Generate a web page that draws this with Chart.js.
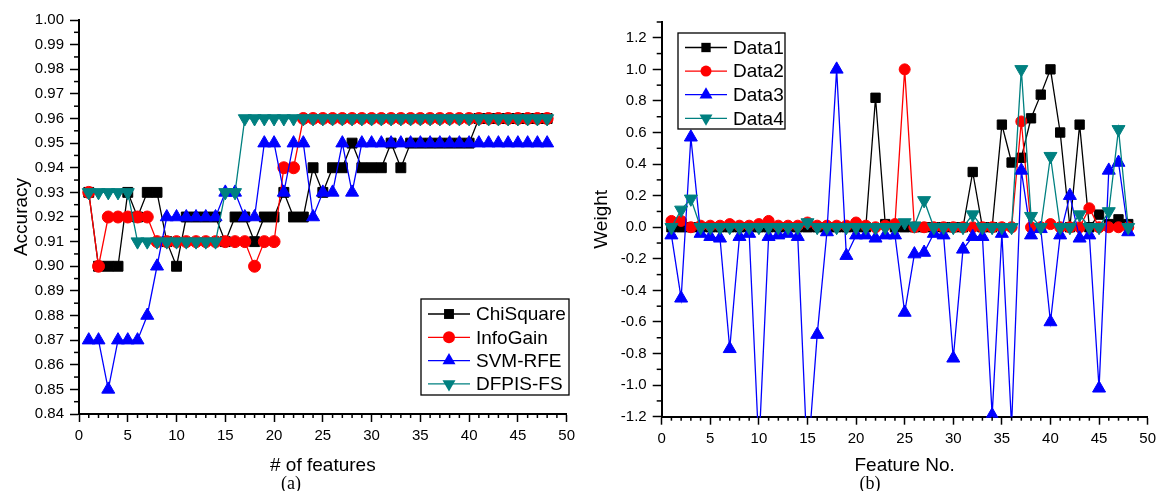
<!DOCTYPE html>
<html>
<head>
<meta charset="utf-8">
<script src="https://cdn.jsdelivr.net/npm/chart.js@4.4.1/dist/chart.umd.min.js"></script>
<style>
  body { margin: 0; background: #fff; width: 1161px; height: 491px; position: relative; overflow: hidden; }
  .panel { position: absolute; top: 0; height: 491px; }
  .cap { position: absolute; font-family: 'Liberation Serif', 'Times New Roman', serif; font-size: 18px; transform: translateX(-50%); color: #000; }
</style>
</head>
<body>
<div class="panel" style="left:0;width:580px"><canvas id="accChart" width="580" height="491"></canvas></div>
<div class="panel" style="left:580px;width:581px"><canvas id="weightChart" width="581" height="491"></canvas></div>
<div class="cap" style="left:291px;top:473px">(a)</div>
<div class="cap" style="left:870px;top:473px">(b)</div>

<script>
// x values shared by both panels
const features = [1, 2, 3, 4, 5, 6, 7, 8, 9, 10, 11, 12, 13, 14, 15, 16, 17, 18, 19, 20, 21, 22, 23, 24,
                  25, 26, 27, 28, 29, 30, 31, 32, 33, 34, 35, 36, 37, 38, 39, 40, 41, 42, 43, 44, 45, 46, 47, 48];

// (a) accuracy vs number of features
const chiSquare = [0.93, 0.90, 0.90, 0.90, 0.93, 0.92, 0.93, 0.93, 0.91, 0.90, 0.92, 0.92, 0.92, 0.92, 0.91, 0.92,
                   0.92, 0.91, 0.92, 0.92, 0.93, 0.92, 0.92, 0.94, 0.93, 0.94, 0.94, 0.95, 0.94, 0.94, 0.94, 0.95,
                   0.94, 0.95, 0.95, 0.95, 0.95, 0.95, 0.95, 0.95, 0.96, 0.96, 0.96, 0.96, 0.96, 0.96, 0.96, 0.96];
const infoGain = [0.93, 0.90, 0.92, 0.92, 0.92, 0.92, 0.92, 0.91, 0.91, 0.91, 0.91, 0.91, 0.91, 0.91, 0.91, 0.91,
                  0.91, 0.90, 0.91, 0.91, 0.94, 0.94, 0.96, 0.96, 0.96, 0.96, 0.96, 0.96, 0.96, 0.96, 0.96, 0.96,
                  0.96, 0.96, 0.96, 0.96, 0.96, 0.96, 0.96, 0.96, 0.96, 0.96, 0.96, 0.96, 0.96, 0.96, 0.96, 0.96];
const svmRfe = [0.87, 0.87, 0.85, 0.87, 0.87, 0.87, 0.88, 0.90, 0.92, 0.92, 0.92, 0.92, 0.92, 0.92, 0.93, 0.93,
                0.92, 0.92, 0.95, 0.95, 0.93, 0.95, 0.95, 0.92, 0.93, 0.93, 0.95, 0.93, 0.95, 0.95, 0.95, 0.95,
                0.95, 0.95, 0.95, 0.95, 0.95, 0.95, 0.95, 0.95, 0.95, 0.95, 0.95, 0.95, 0.95, 0.95, 0.95, 0.95];
const dfpisFs = [0.93, 0.93, 0.93, 0.93, 0.93, 0.91, 0.91, 0.91, 0.91, 0.91, 0.91, 0.91, 0.91, 0.91, 0.93, 0.93,
                 0.96, 0.96, 0.96, 0.96, 0.96, 0.96, 0.96, 0.96, 0.96, 0.96, 0.96, 0.96, 0.96, 0.96, 0.96, 0.96,
                 0.96, 0.96, 0.96, 0.96, 0.96, 0.96, 0.96, 0.96, 0.96, 0.96, 0.96, 0.96, 0.96, 0.96, 0.96, 0.96];

// (b) feature weights
const data1 = [0, 0, 0, 0, 0, 0, 0, 0, 0, 0, 0, 0, 0, 0, 0, 0, 0, 0, 0, 0, 0, 0.82, 0.02, 0,
               0, 0, 0, 0, 0, 0, 0, 0.35, 0, 0, 0.65, 0.41, 0.44, 0.69, 0.84, 1.0, 0.60, 0, 0.65, 0, 0.08, 0.02, 0.05, 0.02];
const data2 = [0.04, 0.04, 0.0, 0.01, 0.01, 0.01, 0.02, 0.01, 0.01, 0.02, 0.04, 0.01, 0.01, 0.01, 0.03, 0.01,
               0.01, 0.01, 0.01, 0.03, 0.01, 0.0, 0.01, 0.02, 1.0, 0.0, 0.0, 0.0, 0.0, 0.0, 0.0, 0.0,
               0.0, 0.0, 0.0, 0.0, 0.67, 0.0, 0.0, 0.02, 0.0, 0.0, 0.0, 0.12, 0.0, 0.0, 0.0, 0.0];
const data3 = [-0.05, -0.45, 0.57, -0.04, -0.06, -0.07, -0.77, -0.06, -0.04, -1.4, -0.06, -0.05, -0.04, -0.06, -1.5, -0.68,
               -0.03, 1.0, -0.18, -0.05, -0.05, -0.07, -0.05, -0.05, -0.54, -0.17, -0.16, -0.04, -0.05, -0.83, -0.14, -0.06,
               -0.06, -1.19, -0.04, -1.26, 0.36, -0.05, -0.01, -0.60, -0.05, 0.20, -0.07, -0.05, -1.02, 0.36, 0.41, -0.03];
const data4 = [0.0, 0.11, 0.18, 0.0, 0.0, 0.0, 0.0, 0.0, 0.0, 0.0, 0.0, 0.0, 0.0, 0.0, 0.03, 0.0,
               0.0, 0.0, 0.0, 0.0, 0.0, 0.0, 0.0, 0.0, 0.03, 0.01, 0.17, 0.0, 0.0, 0.0, 0.0, 0.08,
               0.0, 0.0, 0.0, 0.0, 1.0, 0.07, 0.0, 0.45, 0.0, 0.0, 0.08, 0.0, 0.0, 0.10, 0.62, 0.0];

// tick labels
const featTicks = [0, 5, 10, 15, 20, 25, 30, 35, 40, 45, 50];
const accTicks = [0.84, 0.85, 0.86, 0.87, 0.88, 0.89, 0.90, 0.91, 0.92, 0.93, 0.94, 0.95, 0.96, 0.97, 0.98, 0.99, 1.00];
const weightTicks = [-1.2, -1.0, -0.8, -0.6, -0.4, -0.2, 0.0, 0.2, 0.4, 0.6, 0.8, 1.0, 1.2];

const FONT = "'Liberation Sans', Arial, sans-serif";

function series(label, values, color, style, radius, order) {
    return {
        label: label,
        data: features.map((f, i) => ({ x: f, y: values[i] })),
        borderColor: color,
        backgroundColor: color,
        borderWidth: 1.3,
        pointStyle: style === 'down' ? 'triangle' : style,
        pointRotation: style === 'down' ? 180 : 0,
        pointRadius: radius,
        pointBorderWidth: 1,
        pointBorderColor: color,
        pointBackgroundColor: color,
        order: order,
        clip: { left: 10, top: 10, right: 10, bottom: 1 },
        tension: 0
    };
}

// small ticks between the labelled ones
const minorTicks = {
    id: 'minorTicks',
    afterDraw(chart, args, opts) {
        const ctx = chart.ctx;
        const area = chart.chartArea;
        ctx.save();
        ctx.strokeStyle = '#000';
        ctx.lineWidth = 1.5;
        ['x', 'y'].forEach(id => {
            const scale = chart.scales[id];
            const step = opts[id];
            const majors = scale.ticks.map(t => t.value);
            const start = Math.ceil(scale.min / step - 1e-6);
            const end = Math.floor(scale.max / step + 1e-6);
            for (let i = start; i <= end; i++) {
                const v = i * step;
                if (majors.some(m => Math.abs(m - v) < step / 10)) continue;
                const p = scale.getPixelForValue(v);
                ctx.beginPath();
                if (id === 'x') {
                    ctx.moveTo(p, area.bottom);
                    ctx.lineTo(p, area.bottom + 4);
                } else {
                    ctx.moveTo(area.left, p);
                    ctx.lineTo(area.left - 5, p);
                }
                ctx.stroke();
            }
        });
        ctx.restore();
    }
};

function drawMarker(ctx, ds, x, y) {
    const r = ds.pointRadius;
    ctx.fillStyle = ds.backgroundColor;
    ctx.beginPath();
    if (ds.pointStyle === 'rect') {
        const s = Math.SQRT1_2 * r;
        ctx.rect(x - s, y - s, 2 * s, 2 * s);
    } else if (ds.pointStyle === 'circle') {
        ctx.arc(x, y, r, 0, Math.PI * 2);
    } else {
        const dir = ds.pointRotation === 180 ? -1 : 1;
        ctx.moveTo(x, y - dir * r);
        ctx.lineTo(x + r * Math.sin(Math.PI / 3), y + dir * r / 2);
        ctx.lineTo(x - r * Math.sin(Math.PI / 3), y + dir * r / 2);
        ctx.closePath();
    }
    ctx.fill();
}

// boxed legend inside the plot
const legendBox = {
    id: 'legendBox',
    afterDatasetsDraw(chart, args, opts) {
        const ctx = chart.ctx;
        ctx.save();
        ctx.fillStyle = '#fff';
        ctx.fillRect(opts.x, opts.y, opts.w, opts.h);
        ctx.strokeStyle = '#000';
        ctx.lineWidth = 1.3;
        ctx.strokeRect(opts.x, opts.y, opts.w, opts.h);
        chart.data.datasets.forEach((ds, i) => {
            const cy = opts.y + opts.first + i * opts.rowH;
            ctx.strokeStyle = ds.borderColor;
            ctx.lineWidth = 1.3;
            ctx.beginPath();
            ctx.moveTo(opts.x + 7, cy);
            ctx.lineTo(opts.x + 49, cy);
            ctx.stroke();
            drawMarker(ctx, ds, opts.x + 28, cy);
            ctx.fillStyle = '#000';
            ctx.font = '19px ' + FONT;
            ctx.textBaseline = 'middle';
            ctx.fillText(ds.label, opts.x + 55, cy + 1);
        });
        ctx.restore();
    }
};

function axisX(title, titlePad, fitHeight) {
    return {
        type: 'linear', min: 0, max: 50,
        afterBuildTicks: s => { s.ticks = featTicks.map(v => ({ value: v })); },
        afterFit: s => { s.height = fitHeight; },
        border: { color: '#000', width: 2 },
        grid: { drawOnChartArea: false, tickLength: 8, tickWidth: 1.5, tickColor: '#000' },
        ticks: { color: '#000', font: { family: FONT, size: 15 }, padding: 5, maxRotation: 0 },
        title: { display: true, text: title, color: '#000', font: { family: FONT, size: 19 }, padding: { top: 0, bottom: titlePad } }
    };
}

function axisY(min, max, ticks, digits, title, fitWidth) {
    return {
        min: min, max: max,
        afterBuildTicks: s => { s.ticks = ticks.map(v => ({ value: v })); },
        afterFit: s => { s.width = fitWidth; },
        border: { color: '#000', width: 2 },
        grid: { drawOnChartArea: false, tickLength: 9, tickWidth: 1.5, tickColor: '#000' },
        ticks: { color: '#000', font: { family: FONT, size: 15 }, padding: 6, callback: v => v.toFixed(digits) },
        title: { display: true, text: title, color: '#000', font: { family: FONT, size: 19 }, padding: { top: 10, bottom: 0 } }
    };
}

new Chart(document.getElementById('accChart'), {
    type: 'line',
    data: {
        datasets: [
            series('ChiSquare', chiSquare, '#000000', 'rect', 7, 4),
            series('InfoGain', infoGain, '#ff0000', 'circle', 6, 3),
            series('SVM-RFE', svmRfe, '#0000ff', 'triangle', 7.5, 2),
            series('DFPIS-FS', dfpisFs, '#008080', 'down', 7.5, 1)
        ]
    },
    options: {
        responsive: false,
        animation: false,
        layout: { padding: { top: 20, right: 11.5, left: 0, bottom: 0 } },
        scales: {
            x: axisX('# of features', 14, 77),
            y: axisY(0.84, 1.00, accTicks, 2, 'Accuracy', 79)
        },
        plugins: {
            legend: { display: false },
            tooltip: { enabled: false },
            minorTicks: { x: 1, y: 0.005 },
            legendBox: { x: 421, y: 299, w: 148, h: 96, first: 15, rowH: 23.3 }
        }
    },
    plugins: [minorTicks, legendBox]
});

new Chart(document.getElementById('weightChart'), {
    type: 'line',
    data: {
        datasets: [
            series('Data1', data1, '#000000', 'rect', 6.6, 4),
            series('Data2', data2, '#ff0000', 'circle', 5.5, 3),
            series('Data3', data3, '#0000ff', 'triangle', 7.5, 2),
            series('Data4', data4, '#008080', 'down', 7.5, 1)
        ]
    },
    options: {
        responsive: false,
        animation: false,
        layout: { padding: { top: 22, right: 8.5, left: 0, bottom: 0 } },
        scales: {
            x: axisX('Feature No.', 14, 74.3),
            y: axisY(-1.2, 1.3, weightTicks, 1, 'Weight', 81.7)
        },
        plugins: {
            legend: { display: false },
            tooltip: { enabled: false },
            minorTicks: { x: 1, y: 0.1 },
            legendBox: { x: 98, y: 33, w: 107, h: 96, first: 14.5, rowH: 23.6 }
        }
    },
    plugins: [minorTicks, legendBox]
});
</script>
</body>
</html>
